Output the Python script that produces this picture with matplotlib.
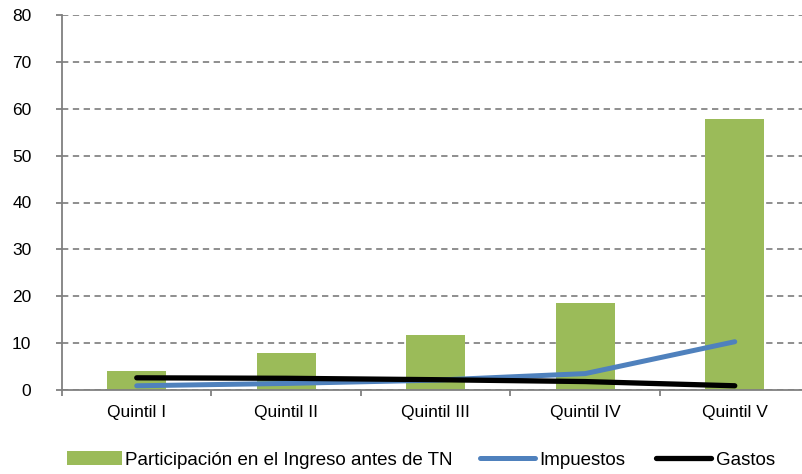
import matplotlib
matplotlib.use("Agg")
import matplotlib.pyplot as plt
from matplotlib.patches import Patch
from matplotlib.lines import Line2D

categories = ["Quintil I", "Quintil II", "Quintil III", "Quintil IV", "Quintil V"]
participacion = [4.1, 7.8, 11.7, 18.5, 57.8]
impuestos = [0.9, 1.4, 2.1, 3.5, 10.3]
gastos = [2.6, 2.5, 2.2, 1.8, 0.9]
yticks = [0, 10, 20, 30, 40, 50, 60, 70, 80]

plt.rcParams['font.family'] = ['Liberation Sans', 'DejaVu Sans']

fig = plt.figure(figsize=(8.03, 4.74), dpi=100)
ax = fig.add_axes([62/803, 84/474, 747.5/803, 375/474])

x = list(range(len(categories)))
ax.bar(x, participacion, width=0.395, color="#9BBB59", zorder=2)
ax.plot(x, impuestos, color="#4F81BD", lw=3.6, solid_capstyle='round', zorder=3)
ax.plot(x, gastos, color="black", lw=3.8, solid_capstyle='round', zorder=4)

ax.set_xlim(-0.5, 4.5)
ax.set_ylim(0, 80)
ax.set_yticks(yticks)
ax.set_yticklabels([str(v) for v in yticks], fontsize=12.5)
ax.yaxis.grid(True, color="#868686", linestyle=(0, (3.5, 2.5)), lw=1.3, zorder=1)
ax.set_axisbelow(True)

ax.set_xticks([i + 0.5 for i in range(-1, 5)], minor=False)
ax.set_xticklabels([])
ax.set_xticks(x, minor=True)
ax.set_xticklabels(categories, minor=True, fontsize=12.5)
ax.tick_params(axis='x', which='major', direction='out', length=4, width=1.3, color="#808080")
ax.tick_params(axis='x', which='minor', length=0, pad=11)
ax.tick_params(axis='y', direction='out', length=4, width=1.3, color="#808080", pad=18)

for s in ['top', 'right']:
    ax.spines[s].set_visible(False)
for s in ['left', 'bottom']:
    ax.spines[s].set_color("#808080")
    ax.spines[s].set_linewidth(1.3)

legend_items = [
    (Patch(facecolor="#9BBB59", edgecolor="none"), "Participación en el Ingreso antes de TN", 67, 0.16),
    (Line2D([0], [0], color="#4F81BD", lw=3.6, solid_capstyle='round'), "Impuestos", 480, 0.25),
    (Line2D([0], [0], color="black", lw=3.8, solid_capstyle='round'), "Gastos", 656, 0.25),
]
for h, lab, px, tp in legend_items:
    fig.legend(handles=[h], labels=[lab], loc='center left',
               bbox_to_anchor=(px/803, 1 - 460/474), frameon=False, fontsize=13.5,
               handlelength=2.93, handletextpad=tp, borderaxespad=0, borderpad=0)

fig.savefig("out.png", dpi=100)
